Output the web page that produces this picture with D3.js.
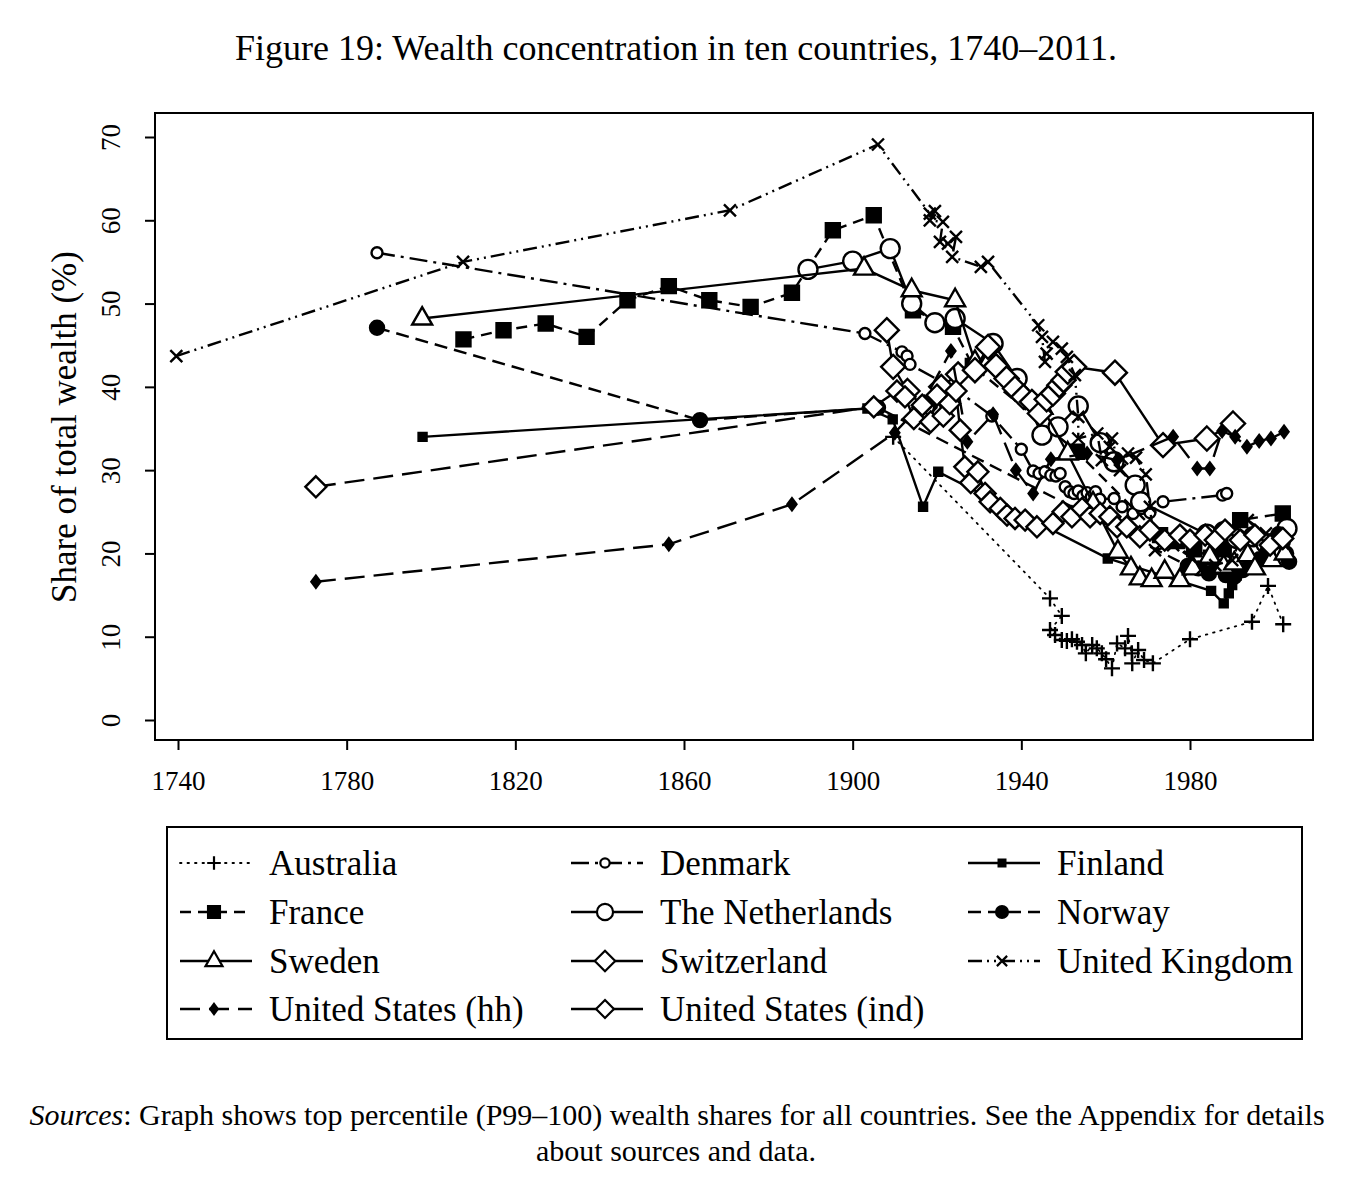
<!DOCTYPE html>
<html><head><meta charset="utf-8">
<script src="https://cdn.jsdelivr.net/npm/d3@7"></script>
<style>
body{margin:0;background:#fff}
svg{display:block}
text{font-family:"Liberation Serif","Times New Roman",serif;fill:#000}
</style>
</head><body>
<svg id="chart" width="1348" height="1194"></svg>
<script>
// ---------------- DATA (year, top 1% wealth share %) ----------------
const australia = [[1909.6,34],[1946.8,14.6],[1949.6,12.5],[1946.8,10.8],[1948,10.2],[1949.6,9.6],[1950.8,9.5],[1952,9.7],[1953.2,9.4],[1954.4,9.0],[1955.3,8.0],[1956.8,9.0],[1957.9,8.6],[1959.1,8.0],[1960.1,7.3],[1961.5,6.2],[1962.7,9.2],[1964.6,8.6],[1965.3,10.1],[1966.2,8.0],[1966.3,6.8],[1967.7,8.4],[1969.1,7.2],[1971.2,6.8],[1980,9.7],[1994.7,11.8],[1998.5,16.1],[2002.1,11.5]];
const denmark = [[1787.2,56.1],[1902.9,46.4],[1911.7,44.2],[1912.9,43.7],[1913.6,42.7],[1925,39.5],[1933,36.5],[1940,32.5],[1942.8,29.9],[1944.2,29.6],[1945.6,29.8],[1947,29.4],[1948.2,29.3],[1949.2,29.6],[1950.4,28],[1951.5,27.4],[1952.5,27.2],[1953.5,27.5],[1954.6,26.9],[1955.6,27.3],[1956.6,26.8],[1957.6,27.4],[1958.6,26.5],[1962,26.6],[1963.9,25.6],[1966.5,24.8],[1968.5,25.4],[1970.5,24.9],[1973.6,26.2],[1987.7,27],[1988.7,27.2]];
const finland = [[1798,34],[1903.5,37.4],[1909.5,36.1],[1916.7,25.6],[1920.3,29.8],[1960.5,19.4],[1985,15.5],[1988,14],[1989.2,15.2],[1990,16.2],[1991,17.3],[1994,19],[1998,20.5]];
const france = [[1807.7,45.7],[1817.2,46.8],[1827.2,47.6],[1836.9,46],[1846.6,50.4],[1856.4,52.1],[1866,50.4],[1875.8,49.6],[1885.6,51.3],[1895.3,58.8],[1905,60.6],[1914.3,49.2],[1923.8,47.2],[1928.5,42.5],[1953.2,32.2],[1972.9,22.2],[1977,21.5],[1981,20.5],[1985,19.5],[1988,20.5],[1991.9,24],[2002,24.8]];
const netherlands = [[1889.4,54.1],[1900,55.1],[1908.9,56.6],[1914,50],[1919.5,47.7],[1924.3,48.2],[1933.3,45.2],[1939,41],[1944.9,34.2],[1948.7,35.2],[1953.5,37.7],[1958.7,33.3],[1962,31],[1967,28.2],[1968.3,26.2],[1984,22.3],[1988,22.6],[1991,21.8],[1995,22],[1998,21.2],[2003,23]];
const norway = [[1787.2,47.1],[1863.8,36],[1906,37.5],[1979.5,18.5],[1982,18.2],[1984.5,17.6],[1986.5,18.4],[1988.5,17.4],[1990.5,17.2],[1992.5,18],[1994.5,18.8],[1996.5,19.3],[1998.5,20.4],[2000,21.6],[2001,22.3],[2002,21.4],[2002.8,20],[2003.5,19]];
const sweden = [[1797.9,48.2],[1902.7,54.2],[1914,51.6],[1924.3,50.4],[1929,43],[1931.9,42.8],[1945,37.5],[1951,32],[1957,26],[1962.9,20.2],[1966,18.2],[1968.1,17],[1970.9,16.8],[1974,17.8],[1977.6,16.8],[1980.7,18.2],[1984.7,19.6],[1988,18.4],[1990.5,18.8],[1993.7,19.8],[1995.4,18.2],[1999.4,19.2],[2002.5,20]];
const switzerland = [[1908.1,46.8],[1909.6,42.4],[1913,39.5],[1917,37.5],[1921,40],[1925,41.5],[1929,42],[1932.1,44.8],[1934,42.5],[1936.5,41],[1938.5,39.8],[1940.5,38.8],[1942.5,38.2],[1944.4,36.8],[1946,38.5],[1947.5,39.2],[1949,40.2],[1950,40.8],[1951,41.8],[1952.5,42.4],[1962.2,41.7],[1973.6,33],[1984,33.8],[1990.2,35.6]];
const unitedKingdom = [[1739.6,43.7],[1807.6,55],[1870.9,61.2],[1906,69.1],[1918.3,60.8],[1919.5,61.1],[1918.3,60],[1921.4,59.8],[1920.7,57.4],[1922.6,57.2],[1924.5,58],[1923.6,55.6],[1930.4,54.4],[1932.1,55],[1944,47.4],[1944.9,46],[1945.6,43],[1946,44],[1947.5,45.4],[1949.6,44.6],[1950.8,43.6],[1952.7,41.4],[1953.5,36.4],[1953.5,33.8],[1958,34.4],[1959.1,31.2],[1961,32.8],[1961.5,33.8],[1963.4,30],[1963.9,31.4],[1965.3,32],[1967.2,31.5],[1969.5,29.5],[1970.5,25.6],[1971.7,20.4],[1976,21],[1980,19.6],[1983,18.2],[1986,18.6],[1990,19.2],[1993.7,24],[1998,22.4],[2002,21.2]];
const usHouseholds = [[1772.7,16.6],[1856.4,21.1],[1885.6,25.9],[1910,34.5],[1916.5,38],[1923.3,44.3],[1927.2,33.4],[1933.3,36.7],[1938.7,30],[1942.8,27.2],[1947,31.3],[1955.6,32],[1962.7,31.2],[1976,34],[1981.7,30.2],[1984.7,30.2],[1987.6,34.7],[1990.7,34],[1993.5,32.8],[1996.4,33.5],[1999.2,33.8],[2002.3,34.6]];
const usIndividuals = [[1772.7,28],[1905,37.6],[1910.5,39.5],[1912.4,38.8],[1914.5,36.2],[1916.5,37.8],[1918.5,35.8],[1920,39],[1921.5,36.5],[1923,38],[1924.5,39.5],[1925.5,34.8],[1926.6,30.4],[1928,28.5],[1929.7,29.8],[1931.4,27.2],[1932.6,26.2],[1935,25.4],[1936.6,24.6],[1938.5,24.2],[1940.9,24],[1943.7,23.2],[1947.5,23.6],[1949.9,25],[1952,24.4],[1954.4,25.4],[1956.3,24.4],[1958.7,24.8],[1961,24.4],[1962.7,23.2],[1965,23.2],[1968.1,22],[1970.5,22.8],[1974,21.6],[1977.6,22.2],[1980,21.6],[1983.6,22.2],[1986,21.6],[1988.3,22.8],[1991.9,21.6],[1995.4,22.2],[1999,21],[2002,21.8]];

const seriesNames = ["Australia","Denmark","Finland","France","The Netherlands","Norway","Sweden","Switzerland","United Kingdom","United States (hh)","United States (ind)"];
const xTickValues = [1740,1780,1820,1860,1900,1940,1980];
const yTickValues = [0,10,20,30,40,50,60,70];
const titleText = "Figure 19: Wealth concentration in ten countries, 1740\u20132011.";
const yAxisTitle = "Share of total wealth (%)";
const sourceLabel = "Sources";
const sourceLine1 = ": Graph shows top percentile (P99\u2013100) wealth shares for all countries. See the Appendix for details";
const sourceLine2 = "about sources and data.";

// ---------------- STYLES ----------------
const dataList = [australia,denmark,finland,france,netherlands,norway,sweden,switzerland,unitedKingdom,usHouseholds,usIndividuals];
const styles = [
  {dash:"1.5,6", width:1.8, cap:"round", marker:"plus", size:8, fill:"none"},
  {dash:"18,6,3,6", width:2.4, marker:"circle", size:5.5, fill:"#fff"},
  {dash:null, width:2.4, marker:"square", size:4, fill:"#000"},
  {dash:"11,7", width:2.4, marker:"square", size:7, fill:"#000"},
  {dash:null, width:2.4, marker:"circle", size:9.5, fill:"#fff"},
  {dash:"13,7", width:2.4, marker:"circle", size:7, fill:"#000"},
  {dash:null, width:2.4, marker:"triangle", size:10, fill:"#fff"},
  {dash:null, width:2.4, marker:"diamond", size:12, fill:"#fff"},
  {dash:"14,5,2,5,2,5", width:2.4, marker:"x", size:6, fill:"none"},
  {dash:"20,9", width:2.4, marker:"sdiamond", size:6, fill:"#000"},
  {dash:null, firstDash:"20,9", width:2.4, marker:"diamond", size:10.5, fill:"#fff"}
];

function markerPath(type, s){
  switch(type){
    case "plus": return `M${-s},0H${s}M0,${-s}V${s}`;
    case "x": return `M${-s},${-s}L${s},${s}M${-s},${s}L${s},${-s}`;
    case "circle": return `M${s},0A${s},${s} 0 1,1 ${-s},0A${s},${s} 0 1,1 ${s},0Z`;
    case "square": return `M${-s},${-s}H${s}V${s}H${-s}Z`;
    case "triangle": return `M0,${-s*1.15}L${s},${s*0.6}L${-s},${s*0.6}Z`;
    case "diamond": return `M0,${-s}L${s},0L0,${s}L${-s},0Z`;
    case "sdiamond": return `M0,${-s}L${s*0.75},0L0,${s}L${-s*0.75},0Z`;
  }
}

// ---------------- SCALES ----------------
const svg = d3.select("#chart");
const plot = {left:155, right:1313, top:113, bottom:740};
const x = d3.scaleLinear().domain([1740,1980]).range([178,1190]);
const y = d3.scaleLinear().domain([0,70]).range([720,137]);

// title
svg.append("text").attr("x",676).attr("y",60).attr("text-anchor","middle")
  .style("font-size","36px").text(titleText);

// plot box
svg.append("rect").attr("x",plot.left).attr("y",plot.top)
  .attr("width",plot.right-plot.left).attr("height",plot.bottom-plot.top)
  .attr("fill","none").attr("stroke","#000").attr("stroke-width",2);

// axes
const yAxis = svg.append("g").attr("transform",`translate(${plot.left},0)`)
  .call(d3.axisLeft(y).tickValues(yTickValues).tickSize(10).tickSizeOuter(0));
yAxis.select(".domain").remove();
yAxis.selectAll("line").attr("stroke","#000").attr("stroke-width",2);
yAxis.selectAll("text").attr("x",null).attr("dy",null)
  .attr("transform","translate(-35,0) rotate(-90)").attr("text-anchor","middle")
  .style("font-size","27px").style("font-family",'"Liberation Serif",serif');

const xAxis = svg.append("g").attr("transform",`translate(0,${plot.bottom})`)
  .call(d3.axisBottom(x).tickValues(xTickValues).tickFormat(d3.format("d")).tickSize(10).tickSizeOuter(0).tickPadding(21));
xAxis.select(".domain").remove();
xAxis.selectAll("line").attr("stroke","#000").attr("stroke-width",2);
xAxis.selectAll("text").style("font-size","27px").style("font-family",'"Liberation Serif",serif');

svg.append("text").attr("transform","translate(76,427) rotate(-90)")
  .attr("text-anchor","middle").style("font-size","35px").text(yAxisTitle);

// series
const line = d3.line().x(d=>x(d[0])).y(d=>y(d[1]));
dataList.forEach((data,i)=>{
  const st = styles[i];
  const g = svg.append("g");
  if(st.firstDash){
    g.append("path").attr("d",line(data.slice(0,2))).attr("fill","none")
      .attr("stroke","#000").attr("stroke-width",st.width).attr("stroke-dasharray",st.firstDash);
    g.append("path").attr("d",line(data.slice(1))).attr("fill","none")
      .attr("stroke","#000").attr("stroke-width",st.width);
  } else {
    g.append("path").attr("d",line(data)).attr("fill","none")
      .attr("stroke","#000").attr("stroke-width",st.width)
      .attr("stroke-linecap",st.cap||"butt")
      .attr("stroke-dasharray",st.dash);
  }
  g.selectAll("path.m").data(data).join("path").attr("class","m")
    .attr("transform",d=>`translate(${x(d[0])},${y(d[1])})`)
    .attr("d",markerPath(st.marker,st.size))
    .attr("fill",st.fill).attr("stroke","#000").attr("stroke-width",2.4);
});

// legend
svg.append("rect").attr("x",167).attr("y",827).attr("width",1135).attr("height",212)
  .attr("fill","none").attr("stroke","#000").attr("stroke-width",2);
const colX = [180,571,968];
const rowY = [863,912,961,1009];
seriesNames.forEach((name,i)=>{
  const st = styles[i];
  const cx = colX[i%3], cy = rowY[Math.floor(i/3)];
  const g = svg.append("g").attr("transform",`translate(${cx},${cy})`);
  g.append("path").attr("d",`M0,0H72`).attr("stroke","#000").attr("stroke-width",st.width)
    .attr("stroke-linecap",st.cap||"butt")
    .attr("stroke-dasharray",st.dash);
  g.append("path").attr("transform","translate(34,0)").attr("d",markerPath(st.marker,st.size*0.85))
    .attr("fill",st.fill).attr("stroke","#000").attr("stroke-width",2.2);
  g.append("text").attr("x",89).attr("y",12).style("font-size","35px").text(name);
});

// sources
const s1 = svg.append("text").attr("x",677).attr("y",1125).attr("text-anchor","middle").style("font-size","30px");
s1.append("tspan").style("font-style","italic").text(sourceLabel);
s1.append("tspan").text(sourceLine1);
svg.append("text").attr("x",676).attr("y",1161).attr("text-anchor","middle").style("font-size","30px").text(sourceLine2);
</script>
</body></html>
